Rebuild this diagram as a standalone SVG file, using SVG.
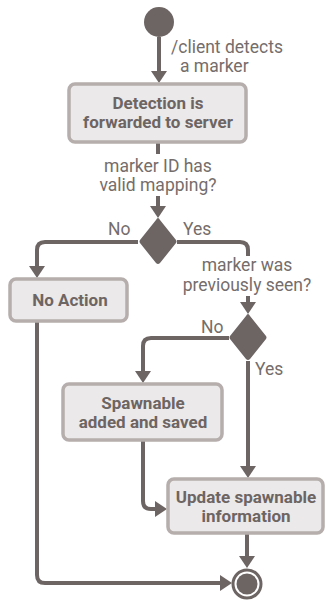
<svg xmlns="http://www.w3.org/2000/svg" width="326" height="601" viewBox="0 0 326 601">
<style>
.box{fill:#ebe9e9;stroke:#b5aeac;stroke-width:3.5}
.bt{font-family:Roboto,"Liberation Sans",sans-serif;font-weight:bold;font-size:17px;fill:#6d6563;text-anchor:middle}
.lb{font-family:Roboto,"Liberation Sans",sans-serif;font-size:17.5px;fill:#756d6b}
.c{fill:none;stroke:#6d6563;stroke-width:4;stroke-linejoin:round}
.dk{fill:#6d6563}
</style>
<defs>
<marker id="ah" markerUnits="userSpaceOnUse" markerWidth="12" markerHeight="16" refX="6" refY="8" orient="auto" viewBox="0 0 12 16">
<path d="M0,0 L12,8 L0,16 Z" fill="#6d6563"/>
</marker>
</defs>
<g id="connectors">
<path class="c" d="M159,37 V77" marker-end="url(#ah)"/>
<path class="c" d="M158,143 V154"/>
<path class="c" d="M158,196 V212" marker-end="url(#ah)"/>
<path class="c" d="M138,242 H45 Q37,242 37,250 V272" marker-end="url(#ah)"/>
<path class="c" d="M177,242 H240 Q248,242 248,250 V256"/>
<path class="c" d="M248,296 V308" marker-end="url(#ah)"/>
<path class="c" d="M229,338 H151 Q143,338 143,346 V377" marker-end="url(#ah)"/>
<path class="c" d="M248,361 V472" marker-end="url(#ah)"/>
<path class="c" d="M143,441 V501 Q143,509 151,509 H161" marker-end="url(#ah)"/>
<path class="c" d="M247,534 V562" marker-end="url(#ah)"/>
<path class="c" d="M37,322 V575 Q37,583 45,583 H226" marker-end="url(#ah)"/>
</g>
<g id="labels">
<text class="lb" x="171" y="53">/client detects</text>
<text class="lb" x="180" y="72">a marker</text>
<text class="lb" x="158" y="172" text-anchor="middle">marker ID has</text>
<text class="lb" x="158" y="191" text-anchor="middle">valid mapping?</text>
<text class="lb" x="108" y="235">No</text>
<text class="lb" x="183" y="235">Yes</text>
<text class="lb" x="247" y="271" text-anchor="middle">marker was</text>
<text class="lb" x="247" y="291" text-anchor="middle">previously seen?</text>
<text class="lb" x="201" y="333">No</text>
<text class="lb" x="255" y="375">Yes</text>
</g>
<g id="start"><circle class="dk" cx="159" cy="22" r="15"/></g>
<g id="detection">
<rect class="box" x="69" y="84" width="177" height="58" rx="6"/>
<text class="bt"><tspan x="158" y="109">Detection is</tspan><tspan x="158" y="128">forwarded to server</tspan></text>
</g>
<g id="decision1"><path class="dk" d="M158,218 Q159,218 160,220 L176,240 Q177,241.5 176,243 L160,263 Q158,265 156,263 L140,243 Q139,241.5 140,240 L156,220 Q157,218 158,218 Z"/></g>
<g id="noaction">
<rect class="box" x="10" y="279" width="117" height="42" rx="6"/>
<text class="bt" x="70" y="306">No Action</text>
</g>
<g id="decision2"><path class="dk" d="M248,314 Q249,314 250,316 L266,336 Q267,337.5 266,339 L250,359 Q248,361 246,359 L230,339 Q229,337.5 230,336 L246,316 Q247,314 248,314 Z"/></g>
<g id="spawnable">
<rect class="box" x="63" y="384" width="159" height="56" rx="6"/>
<text class="bt"><tspan x="143" y="409">Spawnable</tspan><tspan x="143" y="428">added and saved</tspan></text>
</g>
<g id="update">
<rect class="box" x="168" y="479" width="155" height="54" rx="6"/>
<text class="bt"><tspan x="246" y="503">Update spawnable</tspan><tspan x="246" y="522">information</tspan></text>
</g>
<g id="end">
<circle cx="247" cy="584" r="14" fill="#fff" stroke="#6d6563" stroke-width="3"/>
<circle class="dk" cx="247" cy="584" r="10.5"/>
</g>
</svg>
